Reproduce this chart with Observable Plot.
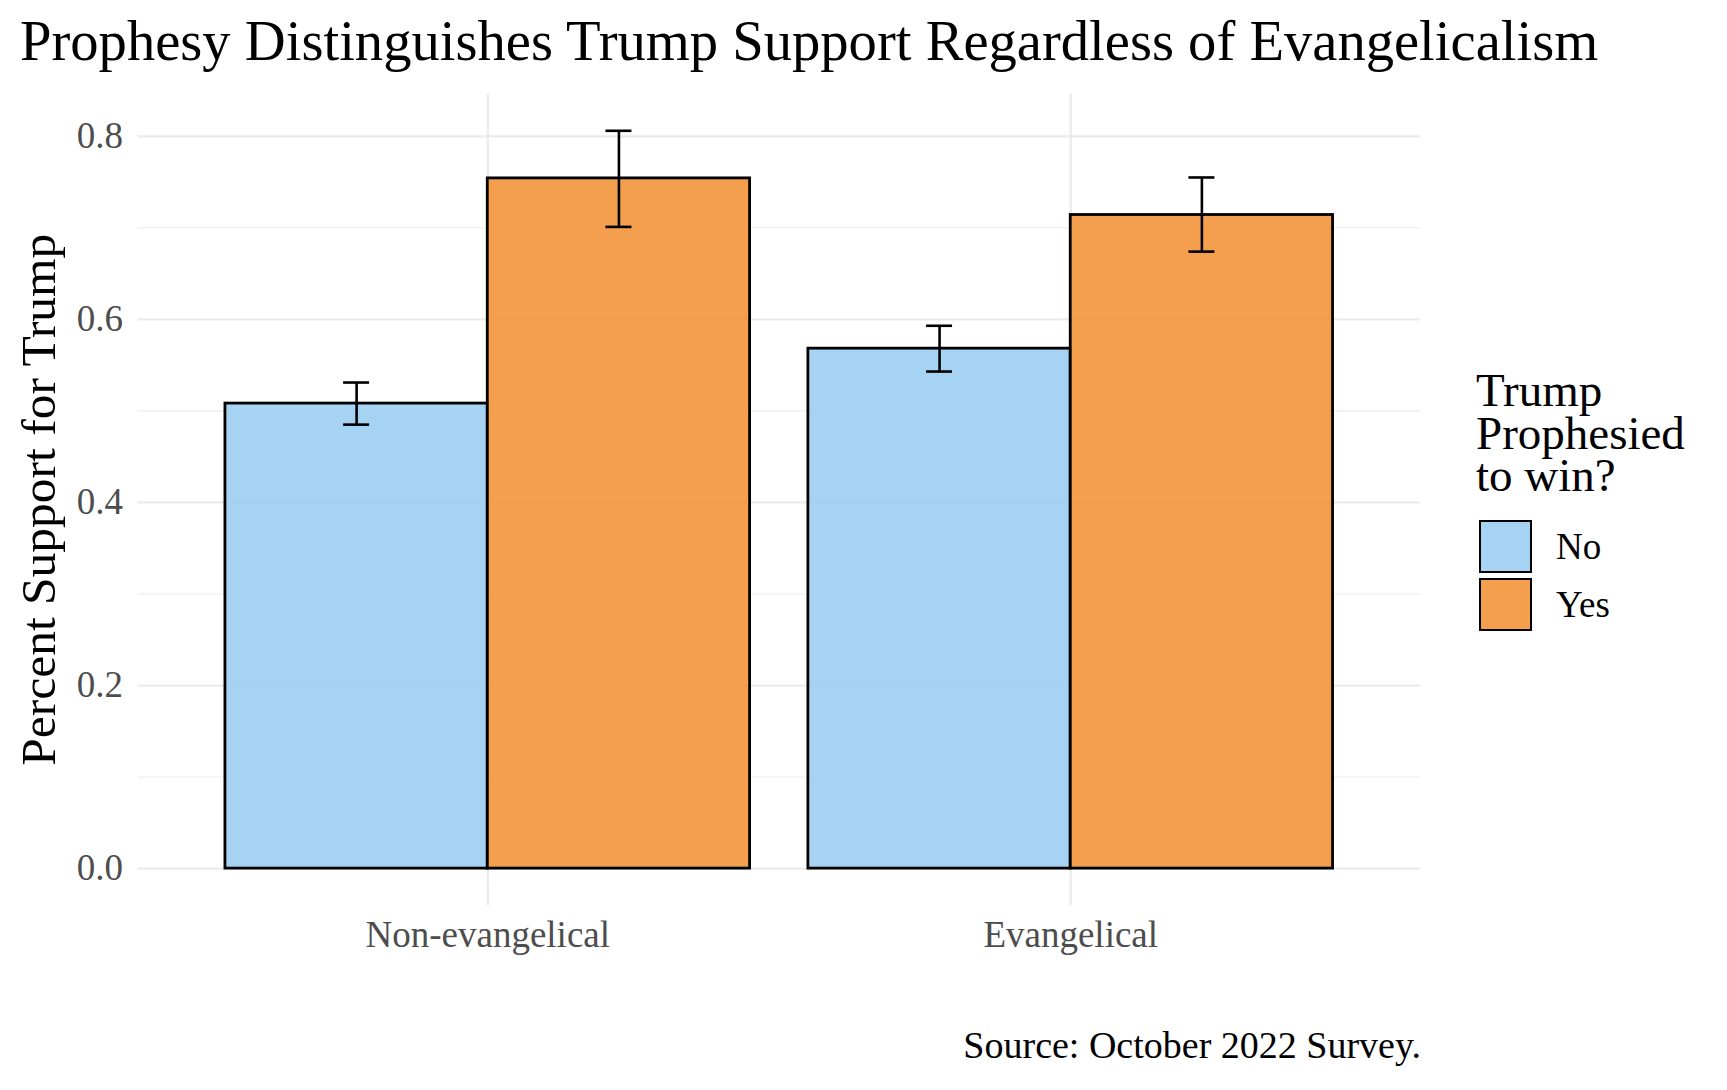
<!DOCTYPE html>
<html>
<head>
<meta charset="utf-8">
<script src="https://cdn.jsdelivr.net/npm/d3@7"></script>
<script src="https://cdn.jsdelivr.net/npm/@observablehq/plot@0.6"></script>
<style>
  html, body { margin: 0; padding: 0; background: #ffffff; }
  #wrap { position: relative; width: 1727px; height: 1090px; font-family: "Liberation Serif", "DejaVu Serif", serif; color: #000; overflow: hidden; }
  #title { position: absolute; left: 20px; top: 13px; font-size: 56.6px; line-height: 56.6px; white-space: nowrap; }
  #chart { position: absolute; left: 0; top: 80px; }
  #legend { position: absolute; left: 1476px; top: 369px; }
  #legend .lt { position: absolute; left: 0; font-size: 47px; line-height: 42.5px; height: 42.5px; white-space: nowrap; }
  .key { position: absolute; left: 3px; width: 49px; height: 49px; border: 2.5px solid #000; }
  .klab { position: absolute; left: 80px; font-size: 37px; line-height: 37px; white-space: nowrap; }
  #caption { position: absolute; right: 306px; top: 1026px; font-size: 38px; line-height: 38px; white-space: nowrap; }
</style>
</head>
<body>
<div id="wrap">
  <div id="title"></div>
  <div id="chart"></div>
  <div id="legend"></div>
  <div id="caption"></div>
</div>
<script>
// ---- data ----
const titleText = "Prophesy Distinguishes Trump Support Regardless of Evangelicalism";
const yTitle = "Percent Support for Trump";
const captionText = "Source: October 2022 Survey.";
const legendTitle = ["Trump", "Prophesied", "to win?"];
const categories = ["Non-evangelical", "Evangelical"];
const groups = ["No", "Yes"];
const supportNo = [0.508, 0.568];
const supportYes = [0.754, 0.714];
const lowerNo = [0.485, 0.543];
const upperNo = [0.531, 0.593];
const lowerYes = [0.701, 0.674];
const upperYes = [0.806, 0.755];
const yTicks = [0, 0.2, 0.4, 0.6, 0.8];
const yMinor = [0.1, 0.3, 0.5, 0.7];
const fillColors = ["#96CBF1", "#F28E2E"];

// ---- build table ----
const rows = [];
categories.forEach((c, i) => {
  rows.push({cat: c, group: "No", value: supportNo[i], lo: lowerNo[i], hi: upperNo[i]});
  rows.push({cat: c, group: "Yes", value: supportYes[i], lo: lowerYes[i], hi: upperYes[i]});
});

const barW = 0.9;           // dodge width per category
const capHalf = 0.0223;     // half error-bar cap width
const idx = d => categories.indexOf(d.cat) + 1;
const gi = d => groups.indexOf(d.group);
const left = d => idx(d) - barW / 2 + gi(d) * barW / 2;
const center = d => left(d) + barW / 4;

const yMax = d3.max(rows, d => d.hi);
const yExp = 0.05 * yMax;

const chart = Plot.plot({
  width: 1727,
  height: 920,
  marginLeft: 137.5,
  marginRight: 307,
  marginTop: 13.4,
  marginBottom: 95,
  style: { fontFamily: "Liberation Serif, serif", fontSize: "37px", color: "#4D4D4D", background: "#ffffff", overflow: "visible" },
  x: { domain: [0.4, categories.length + 0.6] },
  y: { domain: [-yExp, yMax + yExp] },
  color: { domain: groups, range: fillColors },
  marks: [
    Plot.ruleY(yMinor, { stroke: "#EBEBEB", strokeWidth: 1.1 }),
    Plot.ruleY(yTicks, { stroke: "#EBEBEB", strokeWidth: 2.2 }),
    Plot.ruleX(categories.map((c, i) => i + 1), { stroke: "#EBEBEB", strokeWidth: 2.2 }),
    Plot.axisY({ ticks: yTicks, tickFormat: d3.format(".1f"), tickSize: 0, tickPadding: 15, label: null, fontSize: 37, fill: "#4D4D4D" }),
    Plot.axisX({ ticks: categories.map((c, i) => i + 1), tickFormat: v => categories[v - 1], tickSize: 0, tickPadding: 15, label: null, fontSize: 37, fill: "#4D4D4D" }),
    Plot.rectY(rows, {
      x1: left,
      x2: d => left(d) + barW / 2,
      y1: 0,
      y2: "value",
      fill: "group",
      fillOpacity: 0.85,
      stroke: "#000",
      strokeWidth: 2.8
    }),
    Plot.ruleX(rows, { x: center, y1: "lo", y2: "hi", stroke: "#000", strokeWidth: 2.6 }),
    Plot.ruleY(rows, { x1: d => center(d) - capHalf, x2: d => center(d) + capHalf, y: "hi", stroke: "#000", strokeWidth: 2.6 }),
    Plot.ruleY(rows, { x1: d => center(d) - capHalf, x2: d => center(d) + capHalf, y: "lo", stroke: "#000", strokeWidth: 2.6 }),
    Plot.text([yTitle], { frameAnchor: "left", textAnchor: "middle", rotate: -90, dx: -98.5, fontSize: 49.5, fill: "#000" })
  ]
});
document.getElementById("chart").appendChild(chart);

document.getElementById("title").textContent = titleText;
document.getElementById("caption").textContent = captionText;

const legend = document.getElementById("legend");
legendTitle.forEach((t, i) => {
  const d = document.createElement("div");
  d.className = "lt";
  d.style.top = (i * 42.5) + "px";
  d.textContent = t;
  legend.appendChild(d);
});
groups.forEach((g, i) => {
  const k = document.createElement("div");
  k.className = "key";
  k.style.top = (520 - 369 + i * 58) + "px";
  k.style.background = d3.interpolateRgb("#ffffff", fillColors[i])(0.85);
  legend.appendChild(k);
  const l = document.createElement("div");
  l.className = "klab";
  l.style.top = (528 - 369 + i * 58) + "px";
  l.textContent = g;
  legend.appendChild(l);
});
</script>
</body>
</html>
